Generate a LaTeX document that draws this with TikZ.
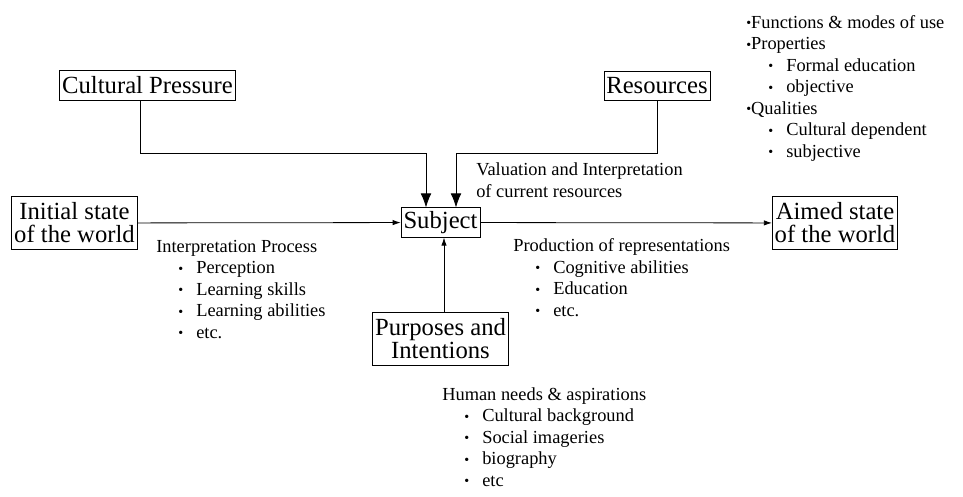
\documentclass[tikz,border=0pt]{standalone}
\usepackage{fontspec}
\setmainfont{Liberation Serif}
\usetikzlibrary{arrows.meta}
\newcommand{\dotb}{\raisebox{0.3pt}{\fontsize{10.5}{10.5}\selectfont •}}
\newcommand{\itm}[1]{\hspace*{16.5pt}\makebox[13.5pt][l]{\dotb}#1}
\begin{document}
\begin{tikzpicture}[x=0.75pt,y=-0.75pt,
    box/.style={draw,line width=0.6pt,inner xsep=1.8pt,inner ysep=2pt,align=center,
      minimum height=22pt,font=\fontsize{18.5}{17.3}\selectfont},
    twobox/.style={box,minimum height=40pt},
    note/.style={anchor=base west,align=left,inner sep=0pt,
      font=\fontsize{13.8}{16.1}\selectfont},
    sml/.style={-{Latex[length=6pt,width=4pt]},line width=0.6pt},
    big/.style={-{Latex[length=10.5pt,width=8pt]},line width=0.6pt}]
  \useasboundingbox (0,0) rectangle (963,496);
  % boxes
  \node [box] (cult) at (147.5,85.5) {Cultural Pressure};
  \node [box] (res) at (657,86) {Resources};
  \node [twobox] (init) at (74.5,223) {Initial state\\of the world};
  \node [box] (subj) at (440.5,222.5) {Subject};
  \node [twobox] (aimed) at (835,223) {Aimed state\\of the world};
  \node [twobox] (purp) at (440.5,339) {Purposes and\\Intentions};
  % connectors
  \coordinate (jl) at (426,153);
  \coordinate (jr) at (456,153);
  \draw [big] ([xshift=-5pt]cult.south) |- (jl) -- (jl |- subj.north);
  \draw [big] (res.south) |- (jr) -- (jr |- subj.north);
  \draw [sml] (init) -- (subj);
  \draw [sml] (subj) -- (aimed);
  \draw [sml] (purp.north -| 444,0) -- (subj.south -| 444,0);
  % notes (anchored at the baseline of their last line)
  \node [note] (val) at (476,197) {Valuation and Interpretation\\of current resources};
  \node [note] (interp) at (156,338) {Interpretation Process\\\itm{Perception}\\\itm{Learning skills}\\\itm{Learning abilities}\\\itm{etc.}};
  \node [note] (prod) at (513,316) {Production of representations\\\itm{Cognitive abilities}\\\itm{Education}\\\itm{etc.}};
  \node [note] (human) at (442,486) {Human needs \& aspirations\\\itm{Cultural background}\\\itm{Social imageries}\\\itm{biography}\\\itm{etc}};
  \node [note] (props) at (746,157) {\dotb Functions \& modes of use\\\dotb Properties\\\itm{Formal education}\\\itm{objective}\\\dotb Qualities\\\itm{Cultural dependent}\\\itm{subjective}};
\end{tikzpicture}
\end{document}
